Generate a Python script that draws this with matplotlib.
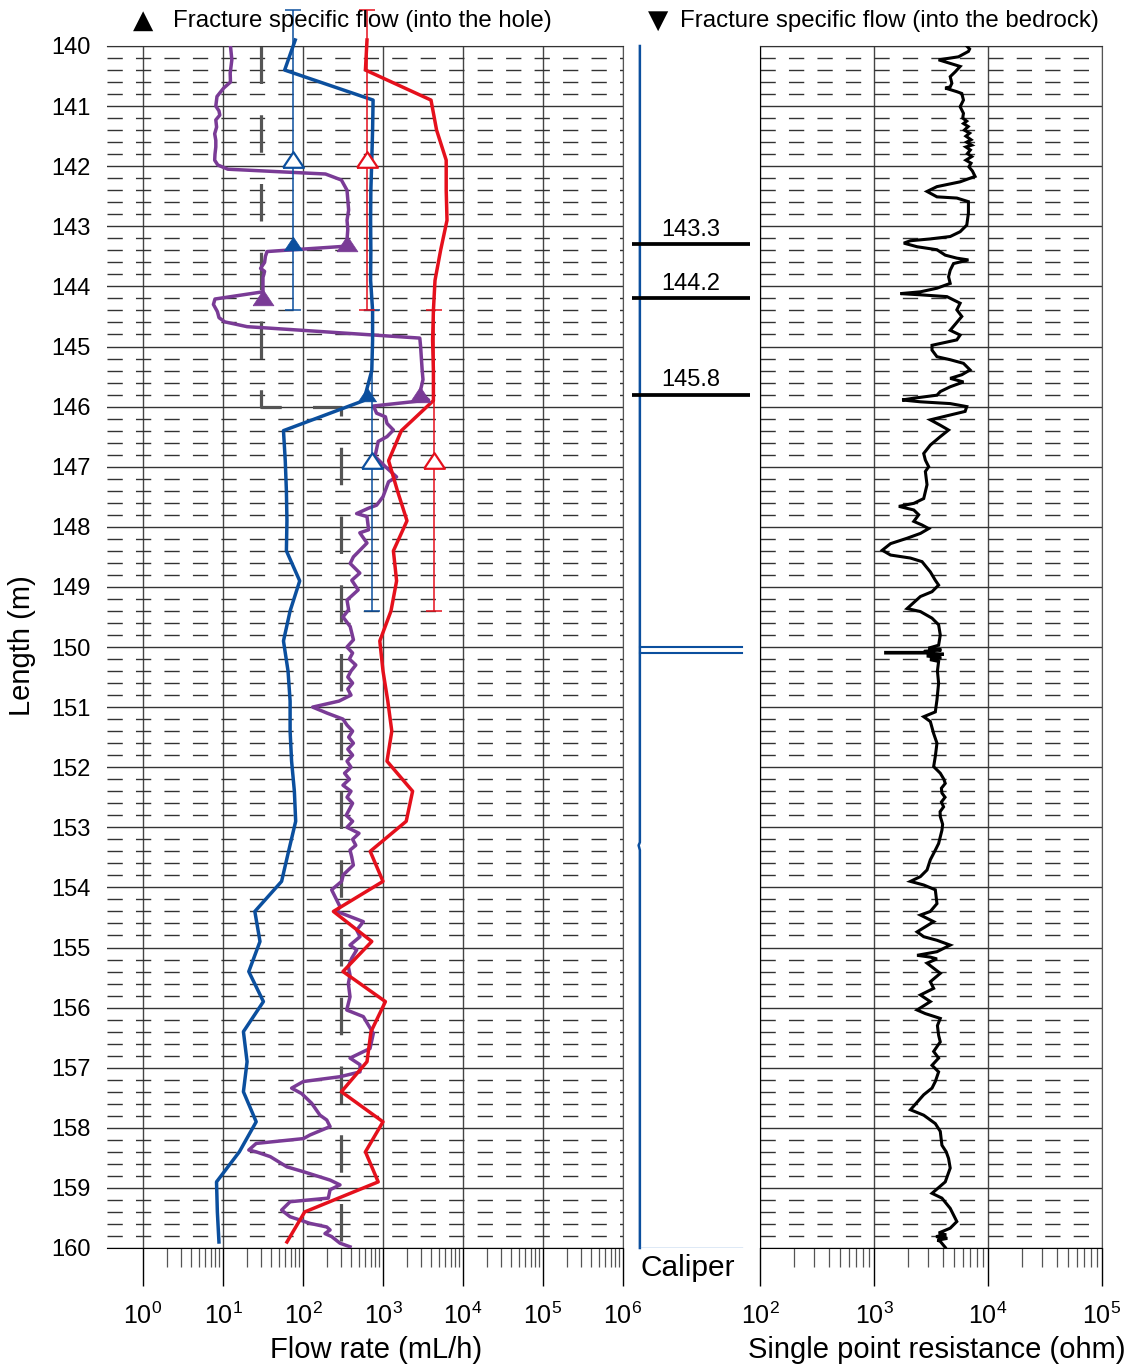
import matplotlib
matplotlib.use('Agg')
import matplotlib.pyplot as plt
from matplotlib.ticker import FixedLocator, NullFormatter

plt.rcParams['font.family'] = ['Liberation Sans', 'DejaVu Sans']
plt.rcParams['mathtext.fontset'] = 'custom'
plt.rcParams['mathtext.rm'] = 'Liberation Sans'
plt.rcParams['mathtext.it'] = 'Liberation Sans:italic'
plt.rcParams['mathtext.bf'] = 'Liberation Sans:bold'

# ---------------- data ----------------
# flow rate (mL/h) with 5 m section, 0.5 m steps
flow_len = [139.9, 140.4, 140.9, 141.4, 141.9, 142.4, 142.9, 143.4, 143.9, 144.4,
            144.9, 145.4, 145.9, 146.4, 146.9, 147.4, 147.9, 148.4, 148.9, 149.4,
            149.9, 150.4, 150.9, 151.4, 151.9, 152.4, 152.9, 153.4, 153.9, 154.4,
            154.9, 155.4, 155.9, 156.4, 156.9, 157.4, 157.9, 158.4, 158.9, 159.4, 159.9]
blue_flow = [80, 59, 752, 741, 724, 705, 700, 705, 700, 741,
             741, 724, 575, 57, 60, 62, 63, 62, 91, 69,
             57, 65, 69, 69, 72, 78, 81, 66, 54, 25,
             29, 21, 32, 18, 20, 18, 26, 16, 8.3, 8.5, 8.9]
red_flow = [631, 603, 3981, 4677, 6166, 6166, 6310, 5248, 4467, 4266,
            4169, 4266, 4266, 1698, 1175, 1514, 1995, 1349, 1479, 1259,
            912, 1000, 1148, 1288, 1122, 2344, 1950, 692, 1000, 240,
            724, 316, 1072, 708, 631, 302, 1000, 603, 871, 105, 63]

# purple profile
purple_len = [140.0, 140.23, 140.45, 140.6, 140.7, 140.84, 141.0, 141.08, 141.15, 141.23,
              141.35, 141.46, 141.57, 141.68, 141.8, 141.9, 141.98, 142.05, 142.13, 142.23,
              142.4, 142.55, 142.73, 142.9, 143.05, 143.23, 143.33, 143.42, 143.5, 143.6,
              143.7, 143.75, 143.85, 144.09, 144.21, 144.3, 144.42, 144.52, 144.59, 144.67,
              144.86, 145.0, 145.2, 145.4, 145.55, 145.78, 145.89, 145.99, 146.11, 146.17,
              146.28, 146.39, 146.5, 146.58, 146.83, 147.0, 147.17, 147.25, 147.5, 147.64,
              147.69, 147.78, 147.83, 148.05, 148.1, 148.27, 148.5, 148.61, 148.77, 148.89,
              149.05, 149.22, 149.38, 149.5, 149.66, 149.88, 150.0, 150.1, 150.2, 150.3,
              150.4, 150.5, 150.6, 150.7, 150.8, 150.9, 151.0, 151.1, 151.2, 151.3,
              151.4, 151.5, 151.6, 151.7, 151.8, 151.9, 152.0, 152.1, 152.2, 152.3,
              152.4, 152.5, 152.6, 152.7, 152.8, 152.9, 153.0, 153.1, 153.2, 153.3,
              153.38, 153.49, 153.63, 153.79, 153.9, 154.04, 154.21, 154.32, 154.4, 154.57,
              154.71, 154.82, 154.96, 155.04, 155.18, 155.32, 155.46, 155.6, 155.82, 156.04,
              156.15, 156.43, 156.68, 156.76, 156.84, 156.95, 157.07, 157.15, 157.23, 157.34,
              157.43, 157.59, 157.79, 157.87, 157.98, 158.12, 158.18, 158.26, 158.37, 158.4,
              158.48, 158.65, 158.73, 158.87, 158.95, 159.03, 159.17, 159.23, 159.37, 159.48,
              159.59, 159.65, 159.7, 159.76, 159.81, 159.92, 159.98]
purple_flow = [12.4, 12.9, 12.3, 12.4, 10.2, 8.41, 8.13, 8.91, 9.12, 8.13,
               8.32, 7.87, 8.13, 8.13, 7.94, 7.87, 8.61, 11.5, 191, 302,
               355, 363, 372, 355, 363, 355, 355, 35.5, 33.9, 33.1,
               29.5, 33.1, 31.6, 31.6, 7.94, 7.59, 8.51, 8.91, 10.5, 20,
               2884, 2951, 3020, 3090, 3162, 2884, 3715, 759, 832, 1072,
               1122, 1349, 1122, 871, 794, 1072, 1479, 1175, 1000, 832,
               661, 468, 631, 661, 513, 631, 427, 389, 513, 407,
               490, 355, 372, 316, 389, 427, 355, 417, 380, 457,
               398, 363, 417, 363, 398, 282, 132, 200, 316, 355,
               417, 372, 427, 363, 417, 355, 398, 331, 380, 316,
               398, 355, 417, 380, 347, 417, 355, 501, 417, 457,
               387, 406, 426, 319, 304, 228, 264, 290, 264, 568,
               469, 516, 387, 469, 406, 369, 387, 369, 387, 352,
               568, 757, 688, 516, 387, 516, 516, 290, 101, 72,
               96, 128, 163, 198, 218, 122, 101, 26, 21, 26,
               39, 63, 101, 218, 290, 218, 207, 69, 54, 69,
               122, 198, 218, 188, 228, 290, 387]

# lower measurement limit
limit_len = [140, 146, 146, 160]
limit_flow = [30, 30, 300, 300]

# section measurements (5 m sections) with open triangles
section_len = [141.9, 146.9]
section_half = 2.5
blue_section = [75, 725]
red_section = [630, 4365]

# fracture specific flows (filled triangles)
blue_frac_len = [143.3, 145.8]
blue_frac_flow = [75, 631]
purple_frac_len = [143.3, 144.2, 145.8]
purple_frac_flow = [355, 31.6, 2884]

# caliper
caliper_len = [140.0, 153.25, 153.3, 153.38, 160.0]
caliper_mm = [75.2, 75.2, 75.12, 75.2, 75.2]
fracture_depths = [143.3, 144.2, 145.8]
fracture_labels = ['143.3', '144.2', '145.8']
caliper_marks = [150.0, 150.1]

# single point resistance (ohm)
spr_len = [140.00, 140.05, 140.09, 140.18, 140.21, 140.23, 140.29, 140.34, 140.43, 140.51,
           140.62, 140.68, 140.70, 140.76, 140.79, 140.90, 141.01, 141.12, 141.20, 141.25,
           141.29, 141.34, 141.40, 141.45, 141.50, 141.56, 141.60, 141.65, 141.68, 141.73,
           141.79, 141.84, 141.90, 141.95, 142.01, 142.08, 142.17, 142.26, 142.34, 142.42,
           142.51, 142.53, 142.59, 142.78, 142.98, 143.09, 143.17, 143.21, 143.24, 143.28,
           143.34, 143.39, 143.48, 143.53, 143.56, 143.62, 143.73, 143.84, 143.95, 144.03,
           144.09, 144.12, 144.14, 144.17, 144.28, 144.39, 144.50, 144.73, 144.81, 144.89,
           144.98, 145.06, 145.17, 145.22, 145.28, 145.39, 145.47, 145.53, 145.59, 145.67,
           145.75, 145.81, 145.86, 145.89, 145.92, 145.95, 146.00, 146.08, 146.14, 146.22,
           146.31, 146.39, 146.50, 146.64, 146.78, 146.89, 147.00, 147.08, 147.30, 147.53,
           147.61, 147.66, 147.72, 147.80, 147.91, 147.97, 148.03, 148.11, 148.19, 148.28,
           148.39, 148.47, 148.52, 148.58, 148.75, 148.89, 148.97, 149.08, 149.16, 149.36,
           149.41, 149.52, 149.63, 149.80, 149.97, 150.02, 150.05, 150.07, 150.09, 150.09,
           150.10, 150.10, 150.12, 150.15, 150.18, 150.21, 150.24, 150.40, 150.60, 150.88,
           151.08, 151.16, 151.24, 151.44, 151.60, 151.82, 151.99, 152.10, 152.20, 152.27,
           152.35, 152.43, 152.50, 152.58, 152.66, 152.74, 152.82, 152.95, 153.05, 153.27,
           153.38, 153.54, 153.71, 153.82, 153.90, 153.96, 154.04, 154.27, 154.40, 154.46,
           154.57, 154.74, 154.82, 154.88, 154.96, 155.07, 155.13, 155.16, 155.19, 155.26,
           155.43, 155.57, 155.68, 155.79, 155.90, 156.04, 156.10, 156.18, 156.30, 156.46,
           156.57, 156.73, 156.84, 156.96, 157.07, 157.23, 157.34, 157.45, 157.70, 157.79,
           157.93, 158.06, 158.29, 158.40, 158.51, 158.67, 158.90, 159.09, 159.17, 159.34,
           159.56, 159.67, 159.75, 159.78, 159.81, 159.84, 159.87, 159.89, 159.99]
spr_ohm = [6512, 6900, 6734, 5510, 4360, 3688, 4661, 5697, 5153, 4661,
           4820, 4661, 4216, 5329, 5891, 6091, 5697, 6091, 6000, 6500,
           6100, 6700, 6200, 6900, 6400, 7100, 6500, 7200, 6400, 7000,
           6600, 7200, 6400, 7100, 6800, 7300, 7702, 5697, 3567, 2918,
           3567, 5329, 6734, 6734, 6512, 5697, 4661, 3120, 2088, 1826,
           2388, 3567, 4216, 5329, 6734, 4984, 4661, 4508, 4661, 3567,
           2553, 1709, 2553, 4360, 5697, 5329, 5891, 4661, 5697, 5329,
           3227, 3227, 3567, 4661, 6091, 6963, 5891, 4661, 6091, 4661,
           3814, 3567, 2233, 1766, 2553, 4661, 6512, 6298, 4661, 3120,
           3814, 4508, 3814, 3120, 2729, 2822, 3017, 2822, 2918, 2729,
           2233, 1652, 2233, 2467, 2233, 2639, 3017, 2553, 1953, 1397,
           1182, 1397, 2088, 2639, 3120, 3450, 3688, 3227, 2553, 1953,
           2553, 3227, 3688, 3814, 3688, 3000, 3900, 2800, 2750, 1265,
           1265, 2900, 4100, 2900, 3900, 3100, 3688, 3600, 3688, 3567,
           3450, 2729, 3120, 3336, 3567, 3450, 3336, 3814, 4100, 4216,
           3900, 3943, 4200, 3900, 4077, 3800, 3814, 4000, 3943, 3688,
           3450, 3120, 2918, 2553, 2088, 2729, 3450, 3567, 3120, 2553,
           3336, 2388, 2729, 3567, 4661, 3567, 2388, 3120, 3567, 2918,
           3814, 3120, 3336, 2553, 3120, 2388, 2822, 3814, 3600, 3688,
           3814, 3336, 3688, 3227, 3688, 3450, 3227, 2729, 2088, 2729,
           3450, 3814, 3943, 4300, 4508, 4661, 4216, 3227, 3943, 4661,
           5329, 4661, 3700, 4300, 3500, 4400, 3600, 3814, 4216]

flow_decades = [0, 1, 2, 3, 4, 5, 6]
spr_decades = [2, 3, 4, 5]
length_ticks = list(range(140, 161))

# ---------------- style ----------------
BLUE = '#0b4f9e'
RED = '#e5101c'
PURPLE = '#7a3b96'
GRAY = '#555555'
LIGHTBLUE = '#5b8fd6'
GRID = '#333333'
MINOR_DASH = (0, (11, 9.5))

W, H = 1133, 1369
fig = plt.figure(figsize=(W / 100, H / 100), dpi=100)


def box(left, right, top=46, bottom=1248):
    return [left / W, 1 - bottom / H, (right - left) / W, (bottom - top) / H]


def style_log_panel(ax, decades, xmin):
    ax.set_xscale('log')
    ax.set_xlim(xmin, 10 ** decades[-1])
    ax.set_ylim(160, 140)
    majors = [10.0 ** d for d in decades]
    minors = [k * 10.0 ** d for d in decades[:-1] for k in range(2, 10)]
    ax.xaxis.set_major_locator(FixedLocator(majors))
    ax.xaxis.set_minor_locator(FixedLocator(minors))
    ax.set_xticklabels(['$10^{%d}$' % d for d in decades])
    ax.xaxis.set_minor_formatter(NullFormatter())
    ax.set_yticks(length_ticks)
    ax.set_yticks([140 + 0.2 * i for i in range(101) if i % 5 != 0], minor=True)
    ax.yaxis.grid(True, which='major', color=GRID, lw=1.0, ls='-')
    ax.yaxis.grid(True, which='minor', color=GRID, lw=1.0, ls=MINOR_DASH)
    ax.xaxis.grid(True, which='major', color='#444444', lw=1.0, ls='-')
    ax.xaxis.grid(False, which='minor')
    ax.set_axisbelow(True)
    ax.tick_params(axis='x', which='major', direction='out', length=27, width=1.0,
                   color='black', pad=12, labelsize=18)
    ax.tick_params(axis='x', which='minor', direction='out', length=14, width=0.9,
                   color='#555555')
    ax.tick_params(axis='y', which='both', length=0)
    ax.spines['top'].set_color(GRID)
    ax.spines['bottom'].set_color('black')
    ax.spines['right'].set_color('#555555')


# ---------------- left panel: flow ----------------
ax1 = fig.add_axes(box(107, 623))
style_log_panel(ax1, flow_decades, 10 ** -0.45)
ax1.spines['left'].set_visible(False)
ax1.tick_params(axis='y', which='major', labelsize=17, pad=12)

LIM_LW = 2.3
ax1.plot(limit_flow, limit_len, color=GRAY, lw=LIM_LW,
         dashes=(27.0 / LIM_LW, 22.5 / LIM_LW), zorder=2)
ax1.plot(purple_flow, purple_len, color=PURPLE, lw=2.5, zorder=3, solid_joinstyle='round')
ax1.plot(red_flow, flow_len, color=RED, lw=2.5, zorder=4, clip_on=False)
ax1.plot(blue_flow, flow_len, color=BLUE, lw=2.5, zorder=4, clip_on=False)

tri_up = [(-1.0, -0.7), (1.0, -0.7), (0.0, 0.8), (-1.0, -0.7)]
for vals, col in ((blue_section, BLUE), (red_section, RED)):
    eb = ax1.errorbar(vals, section_len, yerr=section_half, fmt='none', ecolor=col,
                      elinewidth=1.1, capsize=5.5, capthick=1.1, zorder=5)
    for art in list(eb.lines[1]) + list(eb.lines[2]):
        art.set_clip_on(False)
    ax1.plot(vals, section_len, ls='none', marker=tri_up, ms=15, mfc='white',
             mec=col, mew=1.6, zorder=6, clip_on=False)

ax1.plot(blue_frac_flow, blue_frac_len, ls='none', marker=tri_up, ms=13,
         color=BLUE, mew=0.5, zorder=7)
ax1.plot(purple_frac_flow, purple_frac_len, ls='none', marker=tri_up, ms=15,
         color=PURPLE, mew=0.5, zorder=7)

# ---------------- middle panel: caliper ----------------
ax2 = fig.add_axes(box(632, 750))
ax2.set_xlim(74.7, 82.2)
ax2.set_ylim(160, 140)
ax2.axis('off')
ax2.plot(caliper_mm, caliper_len, color=BLUE, lw=1.8, clip_on=False)
ax2.axhline(160, xmin=0.068, xmax=0.932, color=LIGHTBLUE, lw=1.0)
for y in caliper_marks:
    ax2.axhline(y, xmin=0.068, xmax=0.932, color=BLUE, lw=1.5)
for y, lab in zip(fracture_depths, fracture_labels):
    ax2.axhline(y, xmin=0, xmax=1, color='black', lw=2.7)
    ax2.text(0.5, y - 0.06, lab, transform=ax2.get_yaxis_transform(),
             ha='center', va='bottom', fontsize=17)

# ---------------- right panel: SPR ----------------
ax3 = fig.add_axes(box(760, 1102))
style_log_panel(ax3, spr_decades, 10 ** spr_decades[0])
ax3.set_yticklabels([])
ax3.spines['left'].set_color('black')
ax3.plot(spr_ohm, spr_len, color='black', lw=2.2, zorder=3, solid_joinstyle='miter')

# ---------------- texts ----------------
fig.text(22 / W, 1 - 646 / H, 'Length (m)', rotation=90, ha='center', va='center', fontsize=21)
fig.text(376 / W, 1 - 1350 / H, 'Flow rate (mL/h)', ha='center', va='center', fontsize=21)
fig.text(937 / W, 1 - 1350 / H, 'Single point resistance (ohm)', ha='center', va='center', fontsize=21)
fig.text(688 / W, 1 - 1268 / H, 'Caliper', ha='center', va='center', fontsize=21.5)

fig.text(143 / W, 1 - 21 / H, '\u25B2', ha='center', va='center', fontsize=19,
         family=['DejaVu Sans'])
fig.text(173 / W, 1 - 21 / H, 'Fracture specific flow (into the hole)', ha='left',
         va='center', fontsize=17.3)
fig.text(658 / W, 1 - 21 / H, '\u25BC', ha='center', va='center', fontsize=19,
         family=['DejaVu Sans'])
fig.text(680 / W, 1 - 21 / H, 'Fracture specific flow (into the bedrock)', ha='left',
         va='center', fontsize=17.3)

fig.savefig('out.png', dpi=100)
